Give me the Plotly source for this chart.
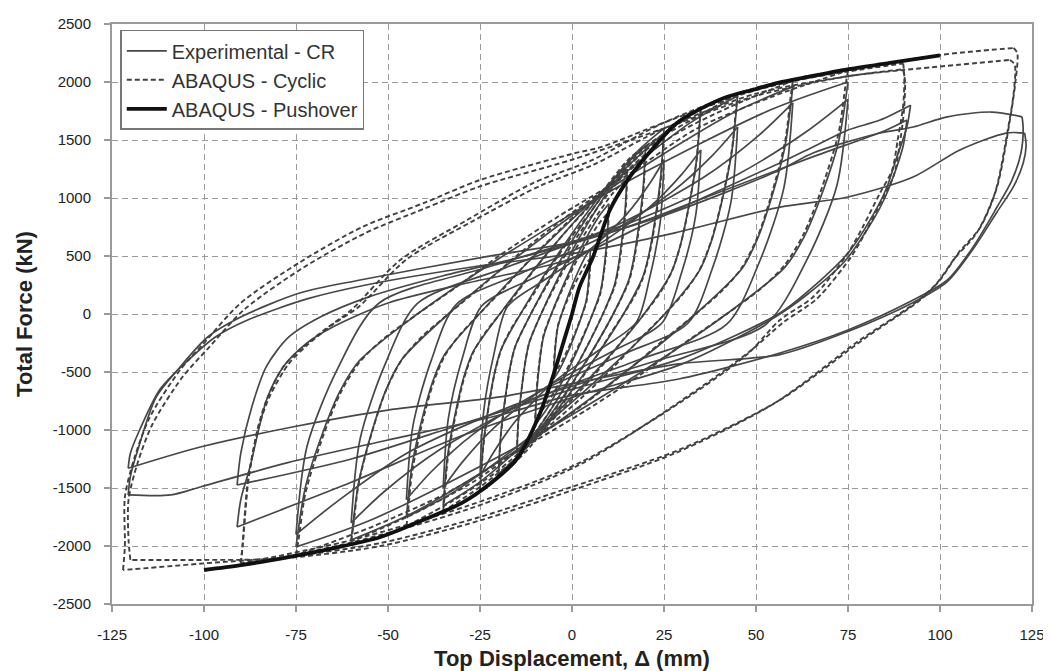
import plotly.graph_objects as go

# ---------------- axis ticks ----------------
x_ticks = [-125, -100, -75, -50, -25, 0, 25, 50, 75, 100, 125]
y_ticks = [-2500, -2000, -1500, -1000, -500, 0, 500, 1000, 1500, 2000, 2500]

# ---------------- ABAQUS - Pushover ----------------
push_d = [-100, -90, -77, -65, -52, -40, -30, -22, -15, -9, -5, -2, 0, 2, 5.7, 10.3, 15, 19.3, 28.5, 35, 42, 50, 55.7, 65, 73.6, 86.4, 100]
push_f = [-2207, -2165, -2095, -2020, -1922, -1770, -1630, -1457, -1250, -880, -520, -210, 0, 230, 491, 897, 1150, 1328, 1647, 1770, 1871, 1940, 1991, 2050, 2103, 2164, 2230]

# ---------------- ABAQUS - Cyclic loops (upper branch, None, lower branch) ----------------
c5_d = [-5, -4.83, -4.5, -3.85, -2.8, -1.25, 1, 3.6, 5, None, 5, 4.83, 4.5, 3.85, 2.8, 1.25, -1, -3.6, -5]
c5_f = [-520, -385, -260, -104, 0, 120, 274, 422, 480, None, 480, 355, 240, 96, 0, -130, -296, -458, -520]
c10_d = [-10, -9.65, -9, -7.7, -5.6, -2.5, 2, 7.2, 10, None, 10, 9.65, 9, 7.7, 5.6, 2.5, -2, -7.2, -10]
c10_f = [-900, -666, -450, -180, 0, 220, 502, 774, 880, None, 880, 651, 440, 176, 0, -225, -513, -792, -900]
c15_d = [-15, -14.5, -13.5, -12.6, -11.55, -8.4, -3.75, 3, 10.8, 15, None, 15, 14.5, 13.5, 12.6, 11.55, 8.4, 3.75, -3, -10.8, -15]
c15_f = [-1200, -888, -600, -396, -240, 0, 293, 667, 1030, 1170, None, 1170, 866, 585, 386, 234, 0, -300, -684, -1056, -1200]
c20_d = [-20, -19.3, -18, -16.8, -15.4, -11.2, -5, 4, 14.4, 20, None, 20, 19.3, 18, 16.8, 15.4, 11.2, 5, -4, -14.4, -20]
c20_f = [-1400, -1036, -700, -462, -280, 0, 345, 787, 1214, 1380, None, 1380, 1021, 690, 455, 276, 0, -350, -798, -1232, -1400]
c25_d = [-25, -24.75, -24.1, -22.5, -21, -19.25, -17, -14, -10.5, -6.25, -1.25, 5, 11.25, 18, 25, None,
         25, 24.75, 24.1, 22.5, 21, 19.25, 17, 14, 10.5, 6.25, 1.25, -5, -11.25, -18, -25]
c25_f = [-1540, -1432, -1140, -770, -508, -308, -154, 0, 169, 385, 616, 878, 1140, 1355, 1540, None,
         1540, 1432, 1140, 770, 508, 308, 154, 0, -169, -385, -616, -878, -1140, -1355, -1540]
c35_d = [-35, -34.65, -33.8, -31.5, -29.4, -26.95, -23.8, -19.6, -14.7, -8.75, -1.75, 7, 15.75, 25.2, 35, None,
         35, 34.65, 33.8, 31.5, 29.4, 26.95, 23.8, 19.6, 14.7, 8.75, 1.75, -7, -15.75, -25.2, -35]
c35_f = [-1700, -1581, -1258, -850, -561, -340, -170, 0, 195, 443, 708, 1009, 1345, 1558, 1770, None,
         1770, 1646, 1310, 885, 584, 354, 177, 0, -187, -425, -680, -969, -1258, -1496, -1700]
c45_d = [-45, -44.55, -43.4, -40.5, -37.8, -34.65, -30.6, -25.2, -18.9, -11.25, -2.25, 9, 20.25, 32.4, 45, None,
         45, 44.55, 43.4, 40.5, 37.8, 34.65, 30.6, 25.2, 18.9, 11.25, 2.25, -9, -20.25, -32.4, -45]
c45_f = [-1830, -1702, -1354, -915, -604, -366, -183, 0, 209, 475, 760, 1083, 1444, 1672, 1900, None,
         1900, 1767, 1406, 950, 627, 380, 190, 0, -201, -458, -732, -1043, -1354, -1610, -1830]
c60_d = [-60, -59.4, -57.9, -54, -50.4, -46.2, -40.8, -33.6, -25.2, -15, -3, 12, 27, 43.2, 60, None,
         60, 59.4, 57.9, 54, 50.4, 46.2, 40.8, 33.6, 25.2, 15, 3, -12, -27, -43.2, -60]
c60_f = [-1960, -1823, -1450, -980, -647, -392, -196, 0, 221, 503, 804, 1146, 1528, 1789, 2010, None,
         2010, 1869, 1487, 1005, 663, 402, 201, 0, -216, -490, -784, -1117, -1450, -1725, -1960]
c75_d = [-75, -74.25, -72.4, -67.5, -63, -57.75, -51, -42, -31.5, -18.75, -3.75, 15, 33.75, 54, 75, None,
         75, 74.25, 72.4, 67.5, 63, 57.75, 51, 42, 31.5, 18.75, 3.75, -15, -33.75, -54, -75]
c75_f = [-2080, -1934, -1539, -1040, -686, -416, -208, 0, 231, 525, 840, 1197, 1596, 1869, 2100, None,
         2100, 1953, 1554, 1050, 693, 420, 210, 0, -229, -520, -832, -1186, -1539, -1830, -2080]
c90a_d = [-90, -89.5, -88, -85.5, -83, -78.5, -74, -67, -60, -46.7, -28.5, -10.6, 5, 25, 50, 75, 90, None,
          90, 90.3, 90, 88.5, 87, 83.7, 79, 75, 65.5, 56.5, 47.5, 30, 2, -28, -60, -90]
c90a_f = [-2150, -2000, -1450, -1000, -741, -457, -310, -130, 34, 465, 810, 1129, 1320, 1650, 1950, 2090, 2160, None,
          2160, 2050, 1800, 1500, 1241, 1043, 750, 526, 147, -52, -350, -750, -1284, -1650, -1950, -2150]
c90b_d = [-90, -89.5, -88, -85, -82, -77, -72, -65, -58, -45, -27, -9, 6, 25, 50, 75, 90, None,
          90, 90.5, 90.2, 89, 87.5, 84.5, 80, 76, 66.5, 57.5, 48, 30, 2, -28, -60, -90]
c90b_f = [-2150, -1980, -1420, -960, -700, -430, -270, -90, 60, 470, 800, 1100, 1290, 1600, 1900, 2050, 2110, None,
          2110, 2000, 1750, 1450, 1200, 1000, 720, 500, 130, -70, -330, -740, -1300, -1680, -1970, -2170]
c120a_d = [-122, -121.5, -121.5, -119, -114.7, -106.5, -100, -90, -74, -57, -40, -25, 0, 8, 25, 50, 75, 100, 120, None,
           120, 121, 120.5, 119, 115.5, 111, 105, 100, 94.6, 80, 56.5, 29, 0, -25, -52, -77, -100, -122]
c120a_f = [-2207, -2000, -1580, -1250, -888, -483, -250, 95, 445, 750, 960, 1155, 1380, 1440, 1650, 1930, 2100, 2233, 2293, None,
           2293, 2250, 2000, 1672, 1095, 750, 526, 293, 120, -200, -741, -1172, -1490, -1750, -1974, -2092, -2150, -2207]
c120b_d = [-120, -120.5, -120.5, -118, -114, -106, -99, -89, -73, -56, -40, -25, 0, 25, 50, 75, 90, 119, None,
           119, 120.3, 120, 118.5, 115, 110, 104, 99, 93, 78, 55, 28, 0, -25, -52, -80, -100, -120]
c120b_f = [-2120, -1950, -1600, -1280, -950, -550, -300, 40, 400, 700, 910, 1100, 1330, 1600, 1880, 2050, 2103, 2190, None,
           2190, 2150, 1900, 1600, 1050, 700, 480, 260, 90, -230, -770, -1200, -1520, -1780, -2000, -2110, -2120, -2120]

# ---------------- Experimental - CR loops ----------------
e5_d = [-5, -4.8, -4.5, -4.2, -3.85, -2.8, -1.25, 1, 3.6, 5, None, 5, 4.8, 4.5, 4.2, 3.85, 2.8, 1.25, -1, -3.6, -5]
e5_f = [-560, -414, -280, -185, -112, 0, 140, 319, 493, 560, None, 560, 414, 280, 185, 112, 0, -140, -319, -493, -560]
e10_d = [-10, -9.65, -9, -8.4, -7.7, -5.6, -2.5, 2, 7.2, 10, None, 10, 9.65, 9, 8.4, 7.7, 5.6, 2.5, -2, -7.2, -10]
e10_f = [-950, -703, -475, -314, -190, 0, 238, 542, 836, 950, None, 950, 703, 475, 314, 190, 0, -238, -542, -836, -950]
e15_d = [-15, -14.5, -13.5, -12.6, -11.55, -8.4, -3.75, 3, 10.8, 15, None, 15, 14.5, 13.5, 12.6, 11.55, 8.4, 3.75, -3, -10.8, -15]
e15_f = [-1200, -888, -600, -396, -240, 0, 313, 713, 1100, 1250, None, 1250, 925, 625, 413, 250, 0, -300, -684, -1056, -1200]
e20_d = [-20, -19.3, -18, -16.8, -15.4, -11.2, -5, 4, 14.4, 20, None, 20, 19.3, 18, 16.8, 15.4, 11.2, 5, -4, -14.4, -20]
e20_f = [-1380, -1021, -690, -455, -276, 0, 363, 827, 1276, 1450, None, 1450, 1073, 725, 479, 290, 0, -345, -787, -1214, -1380]
e25a_d = [-25, -24.1, -22.5, -21, -19.25, -14, -6.25, 5, 18, 25, None, 25, 24.1, 22.5, 21, 19.25, 14, 6.25, -5, -18, -25]
e25a_f = [-1520, -1125, -760, -502, -304, 0, 400, 912, 1408, 1600, None, 1600, 1184, 800, 528, 320, 0, -380, -866, -1338, -1520]
e35a_d = [-35, -33.8, -31.5, -29.4, -26.95, -19.6, -8.75, 7, 25.2, 35, None, 35, 33.8, 31.5, 29.4, 26.95, 19.6, 8.75, -7, -25.2, -35]
e35a_f = [-1650, -1221, -825, -545, -330, 0, 445, 1015, 1566, 1780, None, 1780, 1317, 890, 587, 356, 0, -413, -941, -1452, -1650]
e45a_d = [-45, -43.4, -40.5, -37.8, -34.65, -25.2, -11.25, 9, 32.4, 45, None, 45, 43.4, 40.5, 37.8, 34.65, 25.2, 11.25, -9, -32.4, -45]
e45a_f = [-1750, -1295, -875, -578, -350, 0, 470, 1072, 1654, 1880, None, 1880, 1391, 940, 620, 376, 0, -438, -998, -1540, -1750]
e60a_d = [-60, -57.9, -54, -50.4, -46.2, -33.6, -15, 12, 43.2, 60, None, 60, 57.9, 54, 50.4, 46.2, 33.6, 15, -12, -43.2, -60]
e60a_f = [-1948, -1442, -974, -643, -390, 0, 490, 1117, 1725, 1960, None, 1960, 1450, 980, 647, 392, 0, -487, -1110, -1714, -1948]
e75a_d = [-75, -72.4, -67.5, -63, -57.75, -42, -18.75, 15, 54, 75, None, 75, 72.4, 67.5, 63, 57.75, 42, 18.75, -15, -54, -75]
e75a_f = [-2008, -1486, -1004, -663, -402, 0, 500, 1140, 1760, 2000, None, 2000, 1480, 1000, 660, 400, 0, -502, -1145, -1767, -2008]
e25b_d = [-25, -24, -21.25, -17.5, -7.5, 5, 15, 21.25, 25, None, 25, 24, 21.25, 17.5, 7.5, -5, -15, -21.25, -25]
e25b_f = [-1400, -840, -350, 66, 293, 559, 865, 1131, 1330, None, 1330, 798, 333, -70, -308, -588, -910, -1190, -1400]
e35b_d = [-35, -33.6, -29.75, -24.5, -10.5, 7, 21, 29.75, 35, None, 35, 33.6, 29.75, 24.5, 10.5, -7, -21, -29.75, -35]
e35b_f = [-1500, -900, -375, 71, 311, 594, 919, 1202, 1414, None, 1414, 848, 354, -75, -330, -630, -975, -1275, -1500]
e45b_d = [-45, -43.2, -38.25, -31.5, -13.5, 9, 27, 38.25, 45, None, 45, 43.2, 38.25, 31.5, 13.5, -9, -27, -38.25, -45]
e45b_f = [-1600, -960, -400, 81, 355, 677, 1048, 1370, 1612, None, 1612, 967, 403, -80, -352, -672, -1040, -1360, -1600]
e60b_d = [-60, -57.6, -51, -42, -18, 12, 36, 51, 60, None, 60, 57.6, 51, 42, 18, -12, -36, -51, -60]
e60b_f = [-1800, -1080, -450, 91, 400, 764, 1183, 1547, 1820, None, 1820, 1092, 455, -90, -396, -756, -1170, -1530, -1800]
e75b_d = [-75, -72, -63.75, -52.5, -22.5, 15, 45, 63.75, 75, None, 75, 72, 63.75, 52.5, 22.5, -15, -45, -63.75, -75]
e75b_f = [-1900, -1140, -475, 93, 407, 777, 1203, 1573, 1850, None, 1850, 1110, 463, -95, -407, -777, -1202, -1615, -1900]
e90a_d = [-91, -90, -87.5, -83, -78.5, -72, -65, -50, -28.5, -1.4, 25, 56.5, 65.5, 75, 83.7, 92, None,
          92, 91, 88, 85.6, 83, 75, 65.5, 56.5, 30, 0, -30, -60, -91]
e90a_f = [-1836, -1600, -1319, -741, -457, -250, -112, 95, 267, 465, 850, 1302, 1440, 1586, 1672, 1800, None,
          1800, 1612, 1328, 1095, 922, 526, 233, 9, -380, -650, -950, -1250, -1474]
e90b_d = [-91, -90, -87, -83, -77, -68, -55, -35, -10, 15, 40, 65, 85, 91, None,
          91, 90, 87.5, 85, 82, 74, 64, 55, 30, 0, -30, -60, -80, -91]
e90b_f = [-1474, -1200, -800, -450, -200, -20, 150, 330, 520, 750, 1050, 1350, 1580, 1672, None,
          1672, 1450, 1200, 1000, 820, 450, 170, -30, -430, -720, -1050, -1450, -1700, -1836]
e122a_d = [-120.6, -120, -118, -113, -106.5, -99, -90, -74, -57.6, -24, 0, 25, 56.5, 65.5, 83.7, 92.7, 102, 114, 122.3, None,
           122.3, 122.6, 122, 119.5, 115.5, 109, 102, 92.7, 75, 56.5, 29, 0, -19.6, -50, -77.5, -101, -109, -120.6]
e122a_f = [-1560, -1400, -1172, -716, -457, -198, -26, 181, 293, 491, 620, 850, 1241, 1388, 1560, 1612, 1700, 1741, 1700, None,
           1700, 1600, 1388, 1150, 922, 578, 293, 120, -138, -336, -560, -700, -871, -1086, -1284, -1491, -1560, -1560]
e122b_d = [-120.6, -120, -117.5, -112, -105, -97, -88, -72, -56, -24, 0, 28, 56.5, 75, 92.7, 105.4, 118, 123, None,
           123, 123.4, 122.6, 120, 115.5, 109, 102, 92.7, 75, 56.5, 29, 0, -19.6, -50, -76, -101, -120.6]
e122b_f = [-1330, -1200, -1000, -650, -420, -200, -50, 130, 250, 420, 520, 700, 922, 1009, 1181, 1414, 1560, 1560, None,
           1560, 1450, 1300, 1100, 880, 560, 280, 100, -150, -350, -430, -600, -715, -828, -974, -1147, -1330]


def join(*parts):
    out = []
    for p in parts:
        if out:
            out.append(None)
        out.extend(p)
    return out


exp_d = join(e5_d, e10_d, e15_d, e20_d, e25a_d, e35a_d, e45a_d, e60a_d, e75a_d,
             e25b_d, e35b_d, e45b_d, e60b_d, e75b_d, e90a_d, e90b_d, e122a_d, e122b_d)
exp_f = join(e5_f, e10_f, e15_f, e20_f, e25a_f, e35a_f, e45a_f, e60a_f, e75a_f,
             e25b_f, e35b_f, e45b_f, e60b_f, e75b_f, e90a_f, e90b_f, e122a_f, e122b_f)
cyc_d = join(c5_d, c10_d, c15_d, c20_d, c25_d, c35_d, c45_d, c60_d, c75_d, c90a_d, c90b_d, c120a_d, c120b_d)
cyc_f = join(c5_f, c10_f, c15_f, c20_f, c25_f, c35_f, c45_f, c60_f, c75_f, c90a_f, c90b_f, c120a_f, c120b_f)

fig = go.Figure()
fig.add_trace(go.Scatter(x=exp_d, y=exp_f, mode="lines", name="Experimental - CR",
                         legendgroup="a", connectgaps=False,
                         line=dict(color="#474747", width=1.7, shape="spline", smoothing=0.8)))
fig.add_trace(go.Scatter(x=cyc_d, y=cyc_f, mode="lines", name="ABAQUS - Cyclic",
                         legendgroup="b", connectgaps=False,
                         line=dict(color="#404040", width=1.9, dash="5px,3px", shape="spline", smoothing=0.8)))
fig.add_trace(go.Scatter(x=push_d, y=push_f, mode="lines", name="ABAQUS - Pushover",
                         legendgroup="c",
                         line=dict(color="#111111", width=3.8, shape="spline", smoothing=0.8)))

axis_common = dict(
    showgrid=True, gridcolor="#9a9a9a", gridwidth=1.3, griddash="6px,4px",
    showline=True, linecolor="#9a9a9a", linewidth=2, mirror=True,
    ticks="outside", ticklen=6, tickcolor="#9a9a9a", tickwidth=1.5,
    zeroline=False, automargin=False,
)

# the page body adds an 8 px offset, so the figure is 8 px smaller than the window
fig.update_layout(
    width=1043, height=663,
    margin=dict(l=104, r=19, t=16, b=67),
    paper_bgcolor="white", plot_bgcolor="white",
    font=dict(family="Liberation Sans, Arial, sans-serif", color="#222222"),
    showlegend=True,
    legend=dict(x=0.009, y=0.99, xanchor="left", yanchor="top",
                bgcolor="white", bordercolor="#777777", borderwidth=1.5,
                font=dict(size=20, color="#333333"), tracegroupgap=0,
                itemwidth=40),
    xaxis=dict(range=[-125, 125], tickvals=x_ticks, ticktext=[str(v) for v in x_ticks],
               tickfont=dict(size=15), ticklabelstandoff=10,
               title=dict(text="<b>Top Displacement, \u0394 (mm)</b>", font=dict(size=22), standoff=9),
               **axis_common),
    yaxis=dict(range=[-2500, 2500], tickvals=y_ticks, ticktext=[str(v) for v in y_ticks],
               tickfont=dict(size=15), ticklabelstandoff=10,
               title=dict(text="<b>Total Force (kN)</b>", font=dict(size=22), standoff=14),
               **axis_common),
)

fig.write_html("out.html")
